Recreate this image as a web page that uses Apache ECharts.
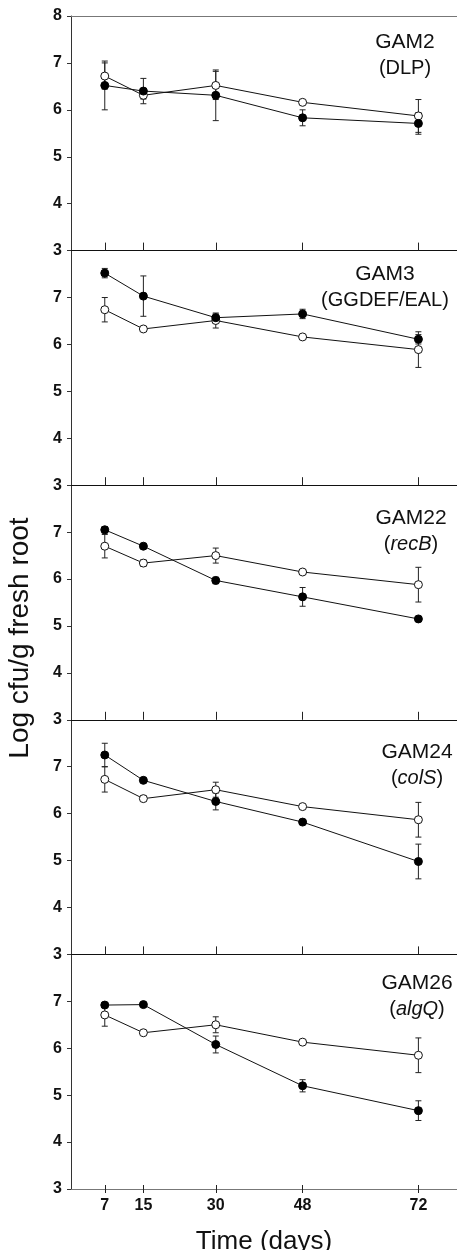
<!DOCTYPE html>
<html>
<head>
<meta charset="utf-8">
<script src="https://cdn.jsdelivr.net/npm/echarts@6/dist/echarts.min.js"></script>
<style>
  html, body { margin: 0; padding: 0; background: #fff; }
  #main { width: 457px; height: 1250px; }
</style>
</head>
<body>
<div id="main"></div>
<script>
// sampling days
var days = [7, 15, 30, 48, 72];
var dayTicks = [7, 15, 30, 48, 72];

// open circles / filled circles (mean, +/- error)
var gam2Open = [6.72, 6.31, 6.52, 6.16, 5.87];
var gam2OpenErr = [0.28, 0.08, 0.30, 0.03, 0.35];
var gam2Filled = [6.52, 6.40, 6.31, 5.83, 5.71];
var gam2FilledErr = [0.52, 0.27, 0.54, 0.17, 0.23];

var gam3Open = [6.74, 6.33, 6.51, 6.16, 5.89];
var gam3OpenErr = [0.26, 0.05, 0.16, 0.03, 0.38];
var gam3Filled = [7.52, 7.03, 6.57, 6.65, 6.11];
var gam3FilledErr = [0.10, 0.43, 0.08, 0.10, 0.10];

var gam22Open = [6.70, 6.34, 6.50, 6.15, 5.88];
var gam22OpenErr = [0.25, 0.07, 0.16, 0.03, 0.37];
var gam22Filled = [7.05, 6.70, 5.97, 5.62, 5.15];
var gam22FilledErr = [0.07, 0.04, 0.07, 0.20, 0.04];

var gam24Open = [6.73, 6.32, 6.51, 6.15, 5.87];
var gam24OpenErr = [0.27, 0.06, 0.16, 0.03, 0.37];
var gam24Filled = [7.25, 6.71, 6.26, 5.82, 4.98];
var gam24FilledErr = [0.25, 0.04, 0.18, 0.04, 0.37];

var gam26Open = [6.71, 6.33, 6.50, 6.13, 5.85];
var gam26OpenErr = [0.24, 0.04, 0.17, 0.03, 0.37];
var gam26Filled = [6.92, 6.93, 6.08, 5.20, 4.67];
var gam26FilledErr = [0.05, 0.03, 0.18, 0.13, 0.21];

var panelNames = ['GAM2', 'GAM3', 'GAM22', 'GAM24', 'GAM26'];
var panelGenes = ['DLP', 'GGDEF/EAL', 'recB', 'colS', 'algQ'];
var geneItalic = [false, false, true, true, true];

var panels = [
    [gam2Open, gam2OpenErr, gam2Filled, gam2FilledErr],
    [gam3Open, gam3OpenErr, gam3Filled, gam3FilledErr],
    [gam22Open, gam22OpenErr, gam22Filled, gam22FilledErr],
    [gam24Open, gam24OpenErr, gam24Filled, gam24FilledErr],
    [gam26Open, gam26OpenErr, gam26Filled, gam26FilledErr]
];

var FONT = '"Liberation Sans", Arial, sans-serif';
var panelTop = 16, panelH = 234.6, plotLeft = 71;
var titleX = [405, 385, 411, 417, 417];
var titleY = [42, 274, 518, 752, 983];

function pairs(vals) {
    return days.map(function (d, i) { return [d, vals[i]]; });
}
function errData(vals, errs) {
    return days.map(function (d, i) { return [d, vals[i] - errs[i], vals[i] + errs[i]]; });
}
function renderErr(params, api) {
    var x = api.value(0);
    var top = api.coord([x, api.value(2)]);
    var bot = api.coord([x, api.value(1)]);
    var w = 3;
    var st = { stroke: '#222', lineWidth: 1 };
    return {
        type: 'group',
        children: [
            { type: 'line', shape: { x1: top[0], y1: top[1], x2: bot[0], y2: bot[1] }, style: st },
            { type: 'line', shape: { x1: top[0] - w, y1: top[1], x2: top[0] + w, y2: top[1] }, style: st },
            { type: 'line', shape: { x1: bot[0] - w, y1: bot[1], x2: bot[0] + w, y2: bot[1] }, style: st }
        ]
    };
}

var grids = [], xAxes = [], yAxes = [], series = [], graphics = [];

panels.forEach(function (p, i) {
    var last = i === panels.length - 1;
    grids.push({
        left: plotLeft, right: 0, top: panelTop + i * panelH, height: panelH,
        containLabel: false, outerBoundsMode: 'none'
    });

    xAxes.push({
        type: 'value', gridIndex: i, min: 0, max: 80, position: 'bottom',
        splitLine: { show: false },
        axisLine: { lineStyle: { color: last ? '#777' : '#111', width: 1 } },
        axisTick: { inside: !last, length: last ? 4 : 8, customValues: dayTicks, lineStyle: { color: '#222' } },
        axisLabel: {
            show: last, customValues: dayTicks, margin: 9,
            fontFamily: FONT, fontSize: 16, fontWeight: 'bold', color: '#111'
        },
        name: last ? 'Time (days)' : '', nameLocation: 'middle', nameGap: 40,
        nameTextStyle: { fontFamily: FONT, fontSize: 26, color: '#111' }
    });
    yAxes.push({
        type: 'value', gridIndex: i, min: 3, max: 8, interval: 1,
        splitLine: { show: false },
        axisLine: { show: true, lineStyle: { color: '#333', width: 1 } },
        axisTick: { show: true, length: 4, lineStyle: { color: '#333' } },
        axisLabel: {
            margin: 9, fontFamily: FONT, fontSize: 16, fontWeight: 'bold', color: '#111',
            formatter: function (v) { return (v === 8 && i > 0) ? '' : String(v); }
        }
    });

    series.push({
        type: 'custom', xAxisIndex: i, yAxisIndex: i, renderItem: renderErr,
        encode: { x: 0, y: [1, 2] }, data: errData(p[0], p[1]), z: 2
    });
    series.push({
        type: 'custom', xAxisIndex: i, yAxisIndex: i, renderItem: renderErr,
        encode: { x: 0, y: [1, 2] }, data: errData(p[2], p[3]), z: 2
    });
    series.push({
        type: 'line', xAxisIndex: i, yAxisIndex: i, data: pairs(p[0]),
        symbol: 'circle', symbolSize: 8, showAllSymbol: true,
        lineStyle: { color: '#111', width: 1 },
        itemStyle: { color: '#fff', borderColor: '#111', borderWidth: 1 }, z: 3
    });
    series.push({
        type: 'line', xAxisIndex: i, yAxisIndex: i, data: pairs(p[2]),
        symbol: 'circle', symbolSize: 8, showAllSymbol: true,
        lineStyle: { color: '#111', width: 1 },
        itemStyle: { color: '#000', borderColor: '#000', borderWidth: 1 }, z: 4
    });

    graphics.push({
        type: 'text', x: titleX[i], y: titleY[i],
        style: { text: panelNames[i], font: '21px ' + FONT, fill: '#111', textAlign: 'center', textVerticalAlign: 'middle' }
    });
    graphics.push({
        type: 'text', x: titleX[i], y: titleY[i] + 26,
        style: {
            text: geneItalic[i] ? '({it|' + panelGenes[i] + '})' : '(' + panelGenes[i] + ')',
            font: '20px ' + FONT, fill: '#111', textAlign: 'center', textVerticalAlign: 'middle',
            rich: { it: { fontStyle: 'italic', fontSize: 20, fontFamily: FONT, fill: '#111' } }
        }
    });
});

// top frame line of the first panel
xAxes.push({
    type: 'value', gridIndex: 0, min: 0, max: 80, position: 'top',
    axisLine: { lineStyle: { color: '#777', width: 1 } },
    axisTick: { show: false }, axisLabel: { show: false }, splitLine: { show: false }
});
// inner half of the crossing ticks on the bottom panel
xAxes.push({
    type: 'value', gridIndex: 4, min: 0, max: 80, position: 'bottom',
    axisLine: { show: false },
    axisTick: { inside: true, length: 4, customValues: dayTicks, lineStyle: { color: '#222' } },
    axisLabel: { show: false }, splitLine: { show: false }
});

graphics.push({
    type: 'text', x: 20, y: 638, rotation: Math.PI / 2,
    style: { text: 'Log cfu/g fresh root', font: '28px ' + FONT, fill: '#111', textAlign: 'center', textVerticalAlign: 'middle' }
});

var chart = echarts.init(document.getElementById('main'));
chart.setOption({
    animation: false,
    backgroundColor: '#fff',
    grid: grids,
    xAxis: xAxes,
    yAxis: yAxes,
    series: series,
    graphic: graphics
});
</script>
</body>
</html>
